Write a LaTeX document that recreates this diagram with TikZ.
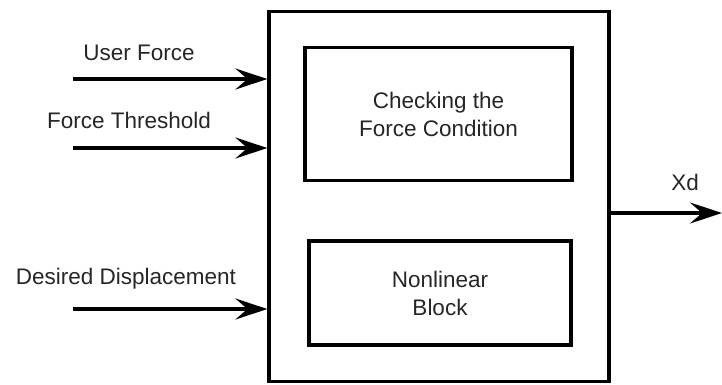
\documentclass[tikz,border=0pt]{standalone}
\usepackage{fontspec}
\setmainfont{Liberation Sans}
\usetikzlibrary{arrows.meta}
\begin{document}
\begin{tikzpicture}[x=1pt,y=-1pt,
  blk/.style={draw=black,line width=3.2pt,inner sep=0pt},
  lbl/.style={font=\fontsize{22.5}{28}\selectfont,text=black!85,align=center},
  sig/.style={line width=3.2pt,-{Stealth[length=32pt,width=21pt,inset=12pt]}}]
\useasboundingbox (0,0) rectangle (722,384);
\node[blk,minimum width=340pt,minimum height=370pt] (outer) at (439,196.5) {};
\node[blk,minimum width=267pt,minimum height=133pt] (chk) at (438.5,114) {};
\node[blk,minimum width=262pt,minimum height=104pt] (nl) at (440,293) {};
\node[lbl] (chkt) at (chk.center) {Checking the\\Force Condition};
\node[lbl] (nlt) at (nl.center) {Nonlinear\\Block};
\coordinate (u0) at (73,79);
\coordinate (u1) at (outer.west |- u0);
\coordinate (t0) at (73,148);
\coordinate (t1) at (outer.west |- t0);
\coordinate (d0) at (73,309);
\coordinate (d1) at (outer.west |- d0);
\coordinate (x0) at (outer.east |- 0,213);
\coordinate (x1) at (722,213);
\draw[sig] (u0) -- (u1);
\draw[sig] (t0) -- (t1);
\draw[sig] (d0) -- (d1);
\draw[sig] (x0) -- (x1);
\node[lbl,anchor=base] (ul) at (139,60) {User Force};
\node[lbl,anchor=base] (tl) at (129,128) {Force Threshold};
\node[lbl,anchor=base] (dl) at (126,284) {Desired Displacement};
\node[lbl,anchor=base] (xl) at (685,190) {Xd};
\end{tikzpicture}
\end{document}
